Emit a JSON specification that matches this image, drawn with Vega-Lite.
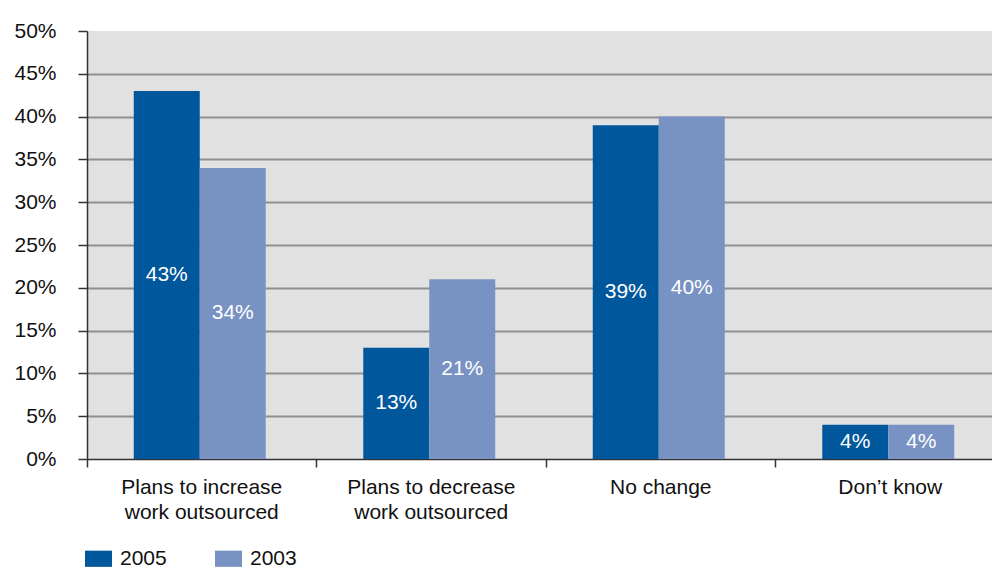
{
  "$schema": "https://vega.github.io/schema/vega-lite/v6.json",
  "width": 905,
  "height": 428,
  "autosize": {"type": "none"},
  "padding": {"left": 87, "top": 31, "right": 0, "bottom": 110},
  "background": "white",
  "config": {
    "view": {"fill": "#E1E1E1", "stroke": null},
    "font": "Liberation Sans",
    "axis": {"labelFont": "Liberation Sans", "labelColor": "#111111"}
  },
  "data": {
    "values": [
      {"category": "Plans to increase work outsourced", "year": "2005", "value": 43},
      {"category": "Plans to increase work outsourced", "year": "2003", "value": 34},
      {"category": "Plans to decrease work outsourced", "year": "2005", "value": 13},
      {"category": "Plans to decrease work outsourced", "year": "2003", "value": 21},
      {"category": "No change", "year": "2005", "value": 39},
      {"category": "No change", "year": "2003", "value": 40},
      {"category": "Don’t know", "year": "2005", "value": 4},
      {"category": "Don’t know", "year": "2003", "value": 4}
    ]
  },
  "encoding": {
    "x": {
      "field": "category",
      "type": "nominal",
      "sort": null,
      "title": null,
      "scale": {"paddingInner": 0, "paddingOuter": 0, "range": [0, 918]},
      "axis": {
        "bandPosition": 0,
        "labelAngle": 0,
        "labelFontSize": 21,
        "labelPadding": 9,
        "labelLineHeight": 25,
        "labelExpr": "split(replace(datum.value, ' work', '|work'), '|')",
        "tickSize": 8,
        "tickColor": "#333333",
        "tickWidth": 1.5,
        "domainColor": "#333333",
        "domainWidth": 1.5,
        "grid": false
      }
    },
    "xOffset": {
      "field": "year",
      "type": "nominal",
      "sort": ["2005", "2003"],
      "scale": {"paddingInner": 0, "paddingOuter": 0.739, "range": [-2, 227.5]}
    }
  },
  "layer": [
    {
      "mark": {"type": "bar"},
      "encoding": {
        "y": {
          "field": "value",
          "type": "quantitative",
          "title": null,
          "scale": {"domain": [0, 50], "nice": false},
          "axis": {
            "values": [0, 5, 10, 15, 20, 25, 30, 35, 40, 45, 50],
            "labelExpr": "datum.value + '%'",
            "labelFontSize": 21,
            "labelPadding": 22,
            "tickSize": 9,
            "tickColor": "#333333",
            "tickWidth": 1.5,
            "domainColor": "#333333",
            "domainWidth": 1.5,
            "grid": true,
            "gridColor": {"condition": {"test": "datum.value == 50 || datum.value == 0", "value": "transparent"}, "value": "#8f8f8f"},
            "gridWidth": 2
          }
        },
        "color": {
          "field": "year",
          "type": "nominal",
          "scale": {"domain": ["2005", "2003"], "range": ["#01579B", "#7893C3"]},
          "legend": {
            "title": null,
            "orient": "none",
            "direction": "horizontal",
            "legendX": -2,
            "legendY": 514,
            "symbolType": "M-1,-0.6H1V0.6H-1Z",
            "symbolSize": 729,
            "symbolStrokeWidth": 0,
            "symbolOpacity": 1,
            "labelFontSize": 21,
            "labelOffset": 8,
            "columnPadding": 48,
            "labelColor": "#111111"
          }
        }
      }
    },
    {
      "transform": [
        {"calculate": "datum.value / 2", "as": "mid"},
        {"calculate": "datum.value + '%'", "as": "label"}
      ],
      "mark": {"type": "text", "color": "white", "fontSize": 21, "baseline": "middle", "align": "center"},
      "encoding": {
        "y": {"field": "mid", "type": "quantitative", "scale": {"domain": [0, 50], "nice": false}},
        "text": {"field": "label", "type": "nominal"},
        "detail": {"field": "year"}
      }
    }
  ]
}
